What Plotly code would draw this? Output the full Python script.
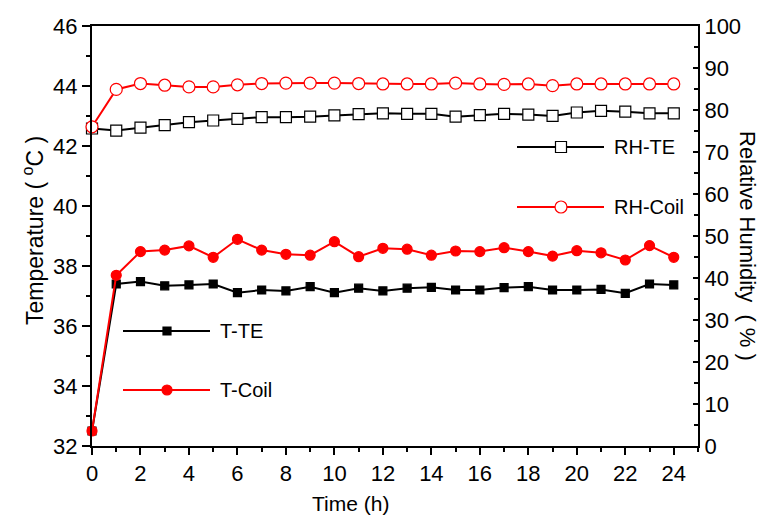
import plotly.graph_objects as go

hours = list(range(25))
t_te = [32.5, 37.40, 37.48, 37.34, 37.37, 37.40, 37.11, 37.20, 37.17, 37.31, 37.11, 37.26, 37.17,
        37.26, 37.29, 37.20, 37.20, 37.28, 37.31, 37.20, 37.20, 37.22, 37.09, 37.40, 37.37]
t_coil = [32.5, 37.69, 38.48, 38.53, 38.67, 38.29, 38.89, 38.53, 38.39, 38.36, 38.81, 38.31, 38.59,
          38.56, 38.36, 38.50, 38.48, 38.61, 38.48, 38.33, 38.51, 38.44, 38.20, 38.68, 38.29]
rh_te = [75.6, 75.1, 75.8, 76.4, 77.1, 77.5, 77.9, 78.3, 78.3, 78.4, 78.7, 79.0, 79.2,
         79.1, 79.1, 78.4, 78.8, 79.1, 78.9, 78.6, 79.4, 79.8, 79.6, 79.2, 79.2]
rh_coil = [76.0, 84.9, 86.3, 85.9, 85.5, 85.5, 86.0, 86.3, 86.4, 86.4, 86.4, 86.3, 86.2,
           86.2, 86.2, 86.4, 86.2, 86.1, 86.2, 85.8, 86.2, 86.2, 86.2, 86.2, 86.2]

x_ticks = list(range(0, 25, 2))
t_ticks = list(range(32, 47, 2))
rh_ticks = list(range(0, 101, 10))

FONT = "Arial, Liberation Sans, sans-serif"
FS_TICK = 22
FS_TITLE = 21
FS_LEG = 20

series = [
    dict(name="T-TE", y=t_te, axis="y", color="black", symbol="square", size=8, fill="black"),
    dict(name="T-Coil", y=t_coil, axis="y", color="red", symbol="circle", size=10, fill="red"),
    dict(name="RH-TE", y=rh_te, axis="y2", color="black", symbol="square", size=11, fill="white"),
    dict(name="RH-Coil", y=rh_coil, axis="y2", color="red", symbol="circle", size=12, fill="white"),
]

# page has an 8px body margin; plot area in page pixels: x 92..698, y 26..446
OFF = 8
PL, PT, PW, PH = 92, 26, 606, 420

def px(xp):
    return (xp - PL) / PW

def py(yp):
    return (PT + PH - yp) / PH

fig = go.Figure()
for s in series:
    fig.add_trace(go.Scatter(
        x=hours, y=s["y"], yaxis=s["axis"], mode="lines+markers", name=s["name"],
        line=dict(color=s["color"], width=2),
        marker=dict(symbol=s["symbol"], size=s["size"], color=s["fill"],
                    line=dict(color=s["color"], width=1.2)),
        showlegend=False, cliponaxis=False,
    ))

# legend keys drawn on an overlay axis in plot-area pixel units
legend_pos = {"T-TE": (31, 305), "T-Coil": (31, 364), "RH-TE": (425, 121), "RH-Coil": (425, 181)}
for s in series:
    lx, ly = legend_pos[s["name"]]
    fig.add_trace(go.Scatter(
        x=[lx, lx + 87], y=[ly, ly], xaxis="x3", yaxis="y3", mode="lines",
        line=dict(color=s["color"], width=2), showlegend=False, hoverinfo="skip"))
    fig.add_trace(go.Scatter(
        x=[lx + 44], y=[ly], xaxis="x3", yaxis="y3", mode="markers",
        marker=dict(symbol=s["symbol"], size=s["size"], color=s["fill"],
                    line=dict(color=s["color"], width=1.2)),
        showlegend=False, hoverinfo="skip"))
    fig.add_annotation(x=lx + 95, y=ly, xref="x3", yref="y3", text=s["name"],
                       showarrow=False, xanchor="left", yanchor="middle",
                       font=dict(family=FONT, size=FS_LEG, color="black"))

axis_common = dict(showgrid=False, zeroline=False, linecolor="black", linewidth=2,
                   tickfont=dict(family=FONT, size=FS_TICK, color="black"), tickcolor="black",
                   tickwidth=1.5, automargin=False)

W, H = 765 - OFF, 516 - OFF
fig.update_layout(
    width=W, height=H,
    margin=dict(l=PL - OFF, r=W - (PL - OFF) - PW, t=PT - OFF, b=H - (PT - OFF) - PH, pad=0),
    plot_bgcolor="white", paper_bgcolor="white",
    xaxis=dict(range=[0, 25], tickvals=x_ticks, ticks="outside", ticklen=7, mirror=True,
               showline=True, minor=dict(dtick=1, ticks="outside", ticklen=4, tickcolor="black"),
               **axis_common),
    yaxis=dict(range=[32, 46], tickvals=t_ticks, ticks="outside", ticklen=8, showline=True,
               minor=dict(dtick=1, ticks="outside", ticklen=4, tickcolor="black"),
               **axis_common),
    yaxis2=dict(range=[0, 100], tickvals=rh_ticks, ticks="inside", ticklen=5, overlaying="y",
                side="right", showline=True,
                minor=dict(dtick=5, ticks="inside", ticklen=4, tickcolor="black"),
                **axis_common),
    xaxis3=dict(range=[0, PW], overlaying="x", visible=False, fixedrange=True),
    yaxis3=dict(range=[PH, 0], overlaying="y", visible=False, fixedrange=True),
)

fig.add_annotation(text="Time (h)", x=px(350), y=py(503), xref="paper", yref="paper",
                   showarrow=False, xanchor="center", yanchor="middle",
                   font=dict(family=FONT, size=FS_TITLE, color="black"))
fig.add_annotation(text="Temperature&nbsp;(&nbsp;<sup>o</sup>C&nbsp;)", x=px(33), y=py(231),
                   xref="paper", yref="paper",
                   showarrow=False, textangle=-90, xanchor="center", yanchor="middle",
                   font=dict(family=FONT, size=23, color="black"))
fig.add_annotation(text="Relative&nbsp;Humidity&nbsp;&nbsp;(&nbsp;%&nbsp;)", x=px(748), y=py(246),
                   xref="paper", yref="paper",
                   showarrow=False, textangle=90, xanchor="center", yanchor="middle",
                   font=dict(family=FONT, size=22, color="black"))

fig.write_html("out.html")
